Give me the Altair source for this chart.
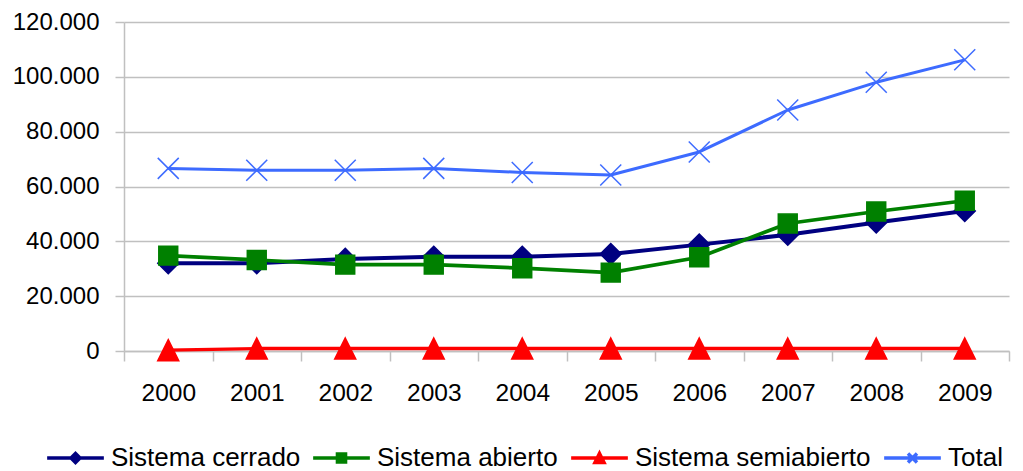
import altair as alt
import pandas as pd

years = [2000, 2001, 2002, 2003, 2004, 2005, 2006, 2007, 2008, 2009]
series = ["Sistema cerrado", "Sistema abierto", "Sistema semiabierto", "Total"]
cerrado = [32000, 32000, 33600, 34400, 34400, 35400, 38800, 42400, 46900, 51100]
abierto = [34800, 33200, 31500, 31500, 30200, 28600, 34200, 46500, 50900, 54800]
semiabierto = [300, 900, 900, 900, 900, 900, 900, 900, 900, 900]
total = [66600, 65900, 65900, 66600, 65100, 64200, 72600, 87900, 98000, 106200]
y_ticks = [0, 20000, 40000, 60000, 80000, 100000, 120000]

colors = ["#000080", "#008000", "#FF0000", "#3D6BFF"]
shapes = [
    "M0,-1L1,0L0,1L-1,0Z",
    "M-0.9,-0.9H0.9V0.9H-0.9Z",
    "M0,-1L1,1H-1Z",
    "M-1,-1L1,1M-1,1L1,-1",
]
legend_shapes = ["M-6.3,0H6.3" + s for s in shapes]
widths = [4, 3, 3.5, 4]

rows = []
for name, vals in zip(series, [cerrado, abierto, semiabierto, total]):
    for yr, v in zip(years, vals):
        rows.append({"year": yr, "serie": name, "value": v})
df = pd.DataFrame(rows)

FONT = "Liberation Sans"
GRID = "#C0C0C0"
x_domain = [years[0] - 0.5, years[-1] + 0.5]
tick_bounds = [y - 0.5 for y in years] + [years[-1] + 0.5]

x_scale = alt.Scale(domain=x_domain, nice=False, zero=False)
y_enc = alt.Y(
    "value:Q",
    scale=alt.Scale(domain=[0, 120000], nice=False),
    axis=alt.Axis(
        values=y_ticks,
        labelExpr="replace(format(datum.value, ','), regexp(',', 'g'), '.')",
        grid=True, gridColor=GRID, gridWidth=1.5,
        tickSize=9, tickColor=GRID, tickWidth=1.5,
        domainColor=GRID, domainWidth=1.5,
        labelPadding=16, labelFont=FONT, labelFontSize=24, labelColor="black",
        title=None,
    ),
)

lines = alt.Chart(df).mark_line(strokeJoin="round").encode(
    x=alt.X(
        "year:Q", scale=x_scale,
        axis=alt.Axis(
            values=tick_bounds, labels=False, grid=False, orient="bottom",
            tickSize=10, tickColor=GRID, tickWidth=1.5,
            domainColor=GRID, domainWidth=1.5, title=None,
        ),
    ),
    y=y_enc,
    stroke=alt.Stroke("serie:N", scale=alt.Scale(domain=series, range=colors), legend=None),
    strokeWidth=alt.StrokeWidth("serie:N", scale=alt.Scale(domain=series, range=widths), legend=None),
    detail="serie:N",
)

points = alt.Chart(df).mark_point(filled=True, size=441, opacity=1, strokeWidth=1.5).encode(
    x=alt.X(
        "year:Q", scale=x_scale,
        axis=alt.Axis(
            values=years, format="d", ticks=False, tickSize=0, domain=False, grid=False,
            orient="bottom", labelPadding=30, labelFont=FONT, labelFontSize=24.5,
            labelColor="black", title=None,
        ),
    ),
    y=y_enc,
    shape=alt.Shape("serie:N", scale=alt.Scale(domain=series, range=shapes), legend=None),
    fill=alt.Fill("serie:N", scale=alt.Scale(domain=series, range=colors), legend=None),
    stroke=alt.Stroke("serie:N", scale=alt.Scale(domain=series, range=colors), legend=None),
)

legend = alt.Legend(
    orient="none", legendX=-61.5, legendY=423, direction="horizontal", columns=4,
    gridAlign="none", labelLimit=0,
    title=None, labelFont=FONT, labelFontSize=26, labelColor="black",
    symbolSize=81, labelOffset=22.5, columnPadding=5, padding=0,
    symbolStrokeWidth=3.5, symbolOpacity=1,
)

legend_layer = alt.Chart(df).transform_filter("false").mark_point(
    filled=True, opacity=1, strokeWidth=3.5
).encode(
    x=alt.X("year:Q", scale=x_scale, axis=None),
    y=y_enc,
    shape=alt.Shape("serie:N", scale=alt.Scale(domain=series, range=legend_shapes), legend=legend),
    fill=alt.Fill("serie:N", scale=alt.Scale(domain=series, range=colors), legend=legend),
    stroke=alt.Stroke("serie:N", scale=alt.Scale(domain=series, range=colors), legend=legend),
)

chart = (
    alt.layer(lines, points, legend_layer)
    .resolve_axis(x="independent")
    .resolve_scale(shape="independent", fill="independent", stroke="independent",
                   strokeWidth="independent")
    .properties(
        width=885, height=329,
        autosize=alt.AutoSizeParams(type="none"),
        padding={"left": 116, "top": 14, "right": 6, "bottom": 120},
        background="white",
    )
    .configure_view(stroke=None)
)

chart.save("out.html", embed_options={"renderer": "svg", "actions": False})
